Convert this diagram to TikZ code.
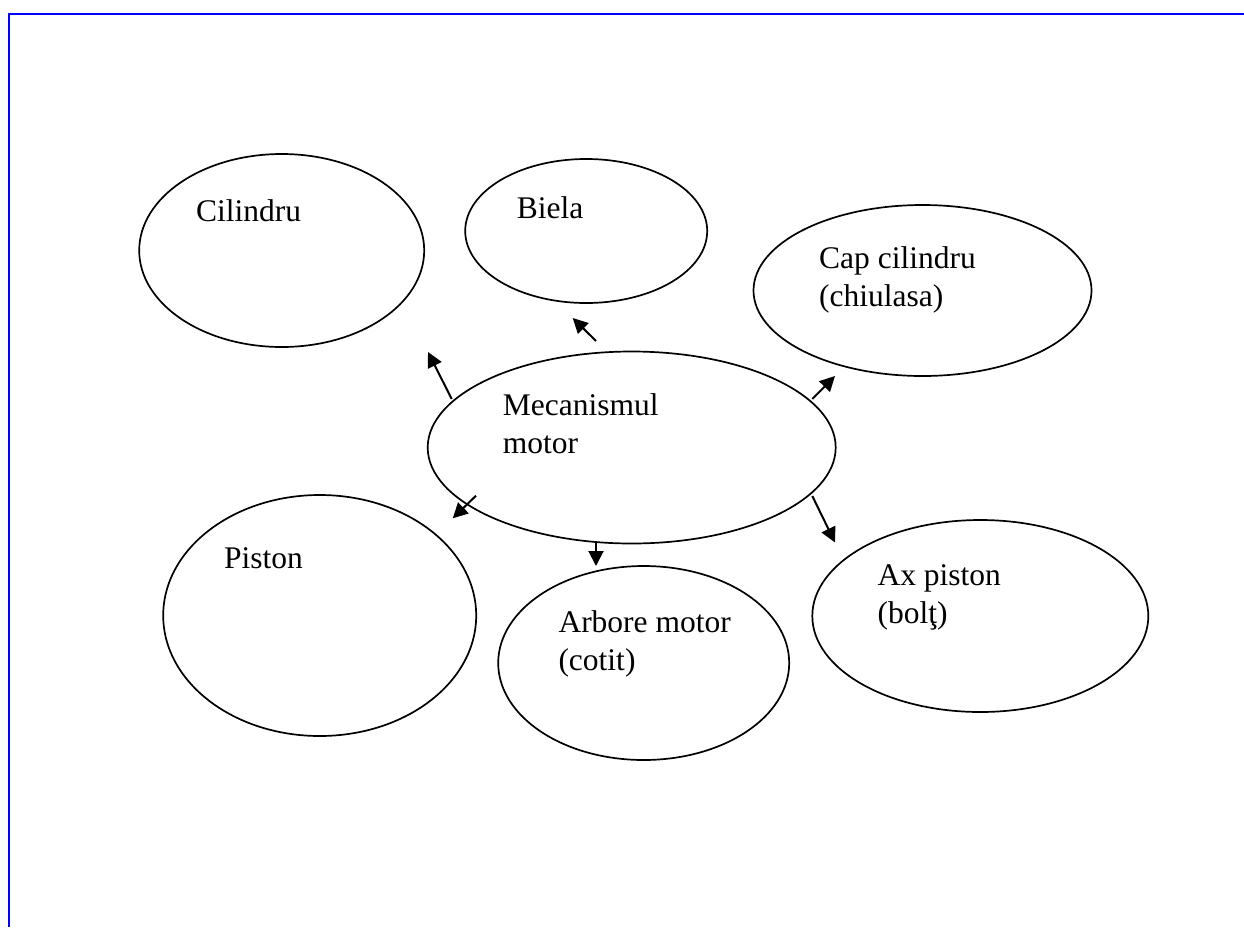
\documentclass[tikz,border=0pt]{standalone}
\usepackage{fontspec}
\setmainfont{Liberation Serif}
\usetikzlibrary{shapes.geometric,arrows.meta}
\tikzset{
  ell/.style={draw, ellipse, line width=1.7pt, inner sep=0pt, outer sep=0pt},
  lbl/.style={anchor=base west, inner sep=0pt, font=\fontsize{31.5}{38}\selectfont, align=left},
  arr/.style={line width=2pt, -{Triangle[length=15pt,width=15pt]}},
  frame/.style={draw=blue, line width=2pt},
}
\begin{document}
\begin{tikzpicture}[x=1pt, y=-1pt]
\useasboundingbox (0,0) rectangle (1244,927);
% page frame
\coordinate (ftr) at (1244,14);
\coordinate (ftl) at (9,14);
\coordinate (fbl) at (9,927);
\draw[frame] (ftr) -- (ftl) -- (fbl);

% ellipses
\node[ell, minimum width=285pt, minimum height=193pt] (cil) at (281.7,250.5) {};
\node[ell, minimum width=242pt, minimum height=144pt] (bie) at (586.2,231) {};
\node[ell, minimum width=338pt, minimum height=171pt] (cap) at (922.5,290.5) {};
\node[ell, minimum width=408pt, minimum height=192pt] (mec) at (631.7,447.5) {};
\node[ell, minimum width=313pt, minimum height=241pt] (pis) at (319.7,615.5) {};
\node[ell, minimum width=291pt, minimum height=194pt] (arb) at (643.7,663) {};
\node[ell, minimum width=336pt, minimum height=192pt] (axp) at (980.3,616) {};

% labels (base = baseline of the last line)
\node[lbl] (tcil) at (196,221.7) {Cilindru};
\node[lbl] (tbie) at (516.7,218.3) {Biela};
\node[lbl] (tcap) at (819,306.3) {Cap cilindru\\(chiulasa)};
\node[lbl] (tmec) at (502.7,453.5) {Mecanismul\\motor};
\node[lbl] (tpis) at (224,568.3) {Piston};
\node[lbl] (tarb) at (558.3,670) {Arbore motor\\(cotit)};
\node[lbl] (taxp) at (877.3,623) {Ax piston\\(bolţ)};

% arrow end points
\coordinate (s1) at (451.7,399);   \coordinate (e1) at (428,352);
\coordinate (s2) at (596,341);     \coordinate (e2) at (572.7,318);
\coordinate (s3) at (812.3,399);   \coordinate (e3) at (835,376);
\coordinate (s4) at (476,495.7);   \coordinate (e4) at (452.7,518.3);
\coordinate (s5) at (596,543.3);   \coordinate (e5) at (596,566);
\coordinate (s6) at (812.3,496);   \coordinate (e6) at (835,542.5);
\draw[arr] (s1) -- (e1);
\draw[arr] (s2) -- (e2);
\draw[arr] (s3) -- (e3);
\draw[arr] (s4) -- (e4);
\draw[arr] (s5) -- (e5);
\draw[arr] (s6) -- (e6);
\end{tikzpicture}
\end{document}
